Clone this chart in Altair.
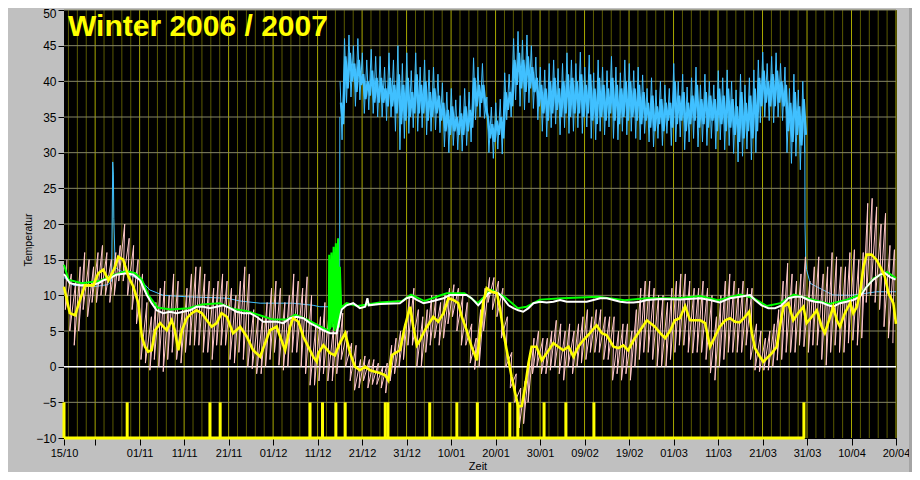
import altair as alt
import pandas as pd

# ---------------- axis ticks (days since 15/10/2006) ----------------
tick_days = [0, 7, 17, 27, 37, 47, 57, 67, 77, 87, 97, 107, 117, 127, 137, 147, 157, 167, 177, 187]
tick_labels = ["15/10", "", "01/11", "11/11", "21/11", "01/12", "11/12", "21/12", "31/12", "10/01",
               "20/01", "30/01", "09/02", "19/02", "01/03", "11/03", "21/03", "31/03", "10/04", "20/04"]
y_ticks = [-10, -5, 0, 5, 10, 15, 20, 25, 30, 35, 40, 45, 50]

title_text = "Winter 2006 / 2007"

# ---------------- blue series ----------------
blue_low = [(0, 12.5), (2.1, 11.4), (6.5, 11.2), (9.9, 11.5), (10.7, 12.0), (10.95, 28.7), (11.1, 27.0),
            (11.2, 20.8), (11.5, 14.0), (12.1, 13.6), (17.1, 12.2), (19.3, 10.75), (22.3, 10.0), (27.6, 9.8),
            (36.6, 9.6), (39.6, 9.2), (44.1, 8.9), (51.5, 8.9), (56, 8.6), (57.5, 8.4), (59.3, 8.4), (61.95, 8.4),
            (62.0, 35.0)]
blue_first_day = 62
# daily extremes (thin spikes)
blue_max = [40,
            46, 46.5, 45, 46,
            44, 43, 44.5, 43.5,
            43.5, 42, 44, 43,
            45, 42.5, 44, 41.5,
            44, 42, 43, 41.6, 42, 41,
            39.8, 38.5, 39, 37.4, 38, 39, 38.5,
            43.3, 42, 42.5,
            37.8, 36.4, 37, 37.5,
            41.2, 41,
            46, 47, 45.8, 46.5, 45,
            43.4, 42, 41.6, 42.5, 43, 41.8, 42.5,
            44, 43, 42.5, 44.1,
            42, 43.7, 41.2, 43, 42, 41.5, 43.5, 42, 41.2, 43, 42.5, 41.5, 42, 40.9,
            39, 40.5, 38.8, 40, 39.5, 39,
            42.5, 40, 41, 39.2, 40.5, 42, 39.5, 41, 40, 39.5, 41.5, 40.5, 41.6,
            40, 38.8, 41, 39.5, 40.5, 41.6,
            43, 44.1, 42.5, 43.5, 44, 42.5,
            42, 39, 41, 38.8, 40]
blue_min = [31.8,
            37, 37.8, 36.5, 37.4,
            35.5, 36, 35.5, 35,
            35, 34.5, 35, 33,
            30.4, 32, 32.7, 33.5,
            33, 33.5, 32.5, 33, 33.2, 32.8,
            30.8, 30, 31, 30.4, 30.2, 31, 31.5,
            34.6, 35, 34.8,
            30, 29.2, 30.5, 29.8,
            34.6, 35,
            37.4, 36.5, 36, 37, 36.2,
            34.6, 33, 32.2, 33.5, 34, 32.5, 33.5,
            32.7, 33, 33.5, 32.7,
            33.6, 32, 31.8, 33, 32.5, 33.6, 32, 31.8, 33, 32.5, 33, 32, 31.8, 32.7,
            31.5, 30.8, 32, 31, 32.7, 31,
            31.5, 32.2, 30.4, 31.5, 32, 30.8, 31.5, 31, 32, 30.5, 31.8, 30.4, 31,
            29.9, 28.7, 29.5, 30.5, 29, 30,
            34.2, 35, 34.5, 34.2, 35, 34.5,
            30, 28.5, 29.5, 27.6, 30]
# daily dense core of the band
blue_core_hi = [37,
                43.5, 44, 42.5, 43,
                41, 40, 41.5, 40.5,
                40.5, 39, 40.5, 39.5,
                41, 39.5, 40.5, 38.5,
                41, 39.5, 40, 38.5, 39, 38,
                37, 36, 36.5, 35, 35.5, 36.5, 36,
                40.5, 39.5, 39.5,
                35, 34, 34.5, 35,
                38.5, 38.5,
                43, 44, 43, 43.5, 42,
                40.5, 39.5, 39, 40, 40.5, 39, 40,
                41, 40.5, 40, 41,
                39.5, 41, 39, 40.5, 39.5, 39, 40.5, 39.5, 39, 40, 40, 39, 39.5, 38.5,
                37, 38, 36.5, 37.5, 37, 37,
                40, 38, 38.5, 37, 38, 39.5, 37.5, 38.5, 38, 37.5, 39, 38, 39,
                37.5, 36.5, 38.5, 37, 38, 39,
                40.5, 41.5, 40, 41, 41.5, 40,
                39.5, 37, 38.5, 36.5, 37.5]
blue_core_lo = [34,
                39, 40, 38.5, 39.5,
                37.5, 38, 37, 37,
                37, 36.5, 36.5, 35.5,
                34, 34.5, 35, 35.5,
                35.5, 35.5, 34.5, 35, 35.5, 34.5,
                33, 32.5, 33, 32.5, 32.5, 33, 33.5,
                36.5, 37, 36.5,
                32, 31.5, 32.5, 32,
                36, 36.5,
                39.5, 39, 38.5, 39, 38.5,
                36.5, 35.5, 34.5, 35.5, 36, 35, 35.5,
                35, 35.5, 35.5, 35,
                35.5, 34.5, 34, 35, 34.5, 35.5, 34.5, 34, 35, 34.5, 35, 34.5, 34, 34.5,
                33.5, 33, 34, 33, 34.5, 33.5,
                34, 34.5, 33, 34, 34.5, 33.5, 34, 33.5, 34.5, 33, 34, 33, 33.5,
                32.5, 31.5, 32, 33, 32, 33,
                36.5, 37, 36.5, 36.5, 37, 36.5,
                33, 31.5, 32.5, 31, 32.5]
blue_end = [(166.5, 35), (166.55, 19.9), (166.7, 15), (166.9, 13.6), (167.7, 11.7), (169.2, 11.2),
            (172.8, 10.05), (176.6, 10.0), (180.4, 10.3), (182.6, 10.5), (187, 10.5)]

# ---------------- pink series: daily max / min, 15/10 .. 19/04 ----------------
pink_max = [15, 13, 12, 14, 16, 15, 14, 16, 17, 16,
            15, 16, 17, 20, 18, 17, 15, 13, 9, 7,
            9, 11, 12, 10, 13, 12, 8, 11, 13, 14,
            14, 13, 12, 11, 12, 13, 12, 11, 10, 12,
            14, 13, 8, 7, 7, 9, 11, 12, 11, 9,
            10, 13, 12, 11, 12.6, 10, 6, 7, 9, 8,
            6, 7.5, 7.5, 5, 3.3, 3, 1, 1.5, 1, 1,
            0.5, 0, 0.5, 3, 4, 5, 6, 10, 11, 8,
            7, 8, 10, 10, 9, 10, 11, 11.5, 11, 10,
            9, 6, 4, 8, 11, 12.5, 12.5, 12, 11, 7,
            2, -1, -3, -2, 1, 4, 5, 4, 4, 5,
            6.5, 6, 5, 6, 5, 6, 7, 8, 7, 8,
            8, 7, 7, 7, 5, 6, 6, 5, 8, 11,
            12, 12, 11, 10, 10, 9, 11, 12, 13, 13,
            12, 11, 11, 12, 11, 10, 7, 10, 12, 13,
            12, 11, 12, 11, 11, 6, 5, 4, 5, 6,
            8, 12, 14.5, 13, 12, 13, 15.4, 12, 14, 15.4,
            13, 14, 16, 15.4, 14, 14, 16, 16.4, 15, 16,
            22.9, 23.6, 22.4, 20, 21.5, 17, 16.4]
pink_min = [8, 5, 3, 5, 8, 7, 9, 9, 10, 10,
            9, 10, 12, 12, 10, 8, 6, 1, 0.5, -0.5,
            1, 0, -0.7, 1, 2, 1, 0.5, 2, 3, 3,
            3, 2, 2, 1, 3, 3, 3, 1, 0.5, 2,
            1, 0, -0.3, -1, -1, 0, 1, 2, 0.2, -0.5,
            0, 2, 2, 0, -1, -2.6, -2.6, -2, -1, -2,
            -2, -1, 1, 0, -2, -3.3, -3, -2, -3, -2.5,
            -2.5, -3, -3.7, -2, -1, 0, 1, 3, 3, 0,
            0, 2, 3, 4, 3, 4, 6, 7, 5, 3,
            3, 0.5, -0.4, 0, 5, 9, 8, 7, 4, 0,
            -3, -5, -8.6, -8, -5, -1, 0, -1, -1, -0.5,
            0, -1, -1.9, 0, -1, 0, 0.5, 1, 2, 2,
            2, 1, 1, -1.9, -1, -1.9, -1, -1.9, 0, 1,
            2, 2, 1, 0, 0, 0, 1, 2, 3, 3,
            2, 1.9, 2, 2, 1, -0.9, -1.9, 0, 1, 2,
            2, 2, 2, 3, 1, -0.5, -0.7, -0.5, -0.5, 0,
            0.9, 1, 2, 2, 2, 3, 2.8, 2, 3, 3,
            1, 0.2, 2, 3, 2, 2, 3.3, 3.7, 3, 4,
            9, 10, 9, 8, 5.6, 4, 3.3]

# ---------------- yellow (daily mean) ----------------
yellow = [(0, 11.2), (1.3, 7.5), (2.5, 7.2), (3.6, 9.35), (4.7, 11.4), (6.6, 11.4), (7.7, 13.1), (8.8, 13.6),
          (10, 12.1), (11.5, 14), (12.2, 15.4), (13.3, 15), (14.5, 12.6), (15.6, 11.2), (16.7, 8.9), (17.5, 4.2),
          (18.2, 2.8), (18.9, 2.1), (19.7, 2.3), (20.5, 5.1), (21.6, 6.1), (23.1, 5.1), (24.2, 6.5), (24.9, 5.1),
          (25.7, 2.3), (26.5, 5.1), (27.6, 6.8), (28.7, 7.5), (29.8, 7.9), (31, 7.5), (32.1, 6.5), (33.2, 5.6),
          (34.3, 6.1), (35.4, 7.5), (36.6, 7.0), (38, 4.7), (39.6, 5.6), (41.1, 4.2), (42.5, 2.3), (44.1, 1.4),
          (45.2, 3.3), (46.3, 5.1), (47.8, 5.6), (48.6, 4.2), (49.7, 2.3), (50.8, 5.6), (51.5, 6.8), (52.7, 6.3),
          (53.8, 4.2), (54.9, 2.8), (56, 1.4), (56.8, 0.7), (57.2, 1.9), (58.3, 3.0), (59.8, 1.9), (60.9, 1.6),
          (62, 3.3), (63.2, 4.7), (64.3, 1.9), (65.4, 0), (66.5, -0.5), (67.7, 0), (68.8, -0.5), (69.9, -0.7),
          (71, -0.9), (72.2, -1.2), (72.9, -1.9), (73.7, 1.6), (74.4, 1.9), (75.5, 2.3), (76.6, 5.6), (77.8, 8.4),
          (78.5, 5.6), (79.3, 3.0), (80, 3.7), (81.1, 5.1), (82.3, 6.3), (83, 7.0), (84.1, 6.3), (85.3, 7.5),
          (86.4, 9.6), (87.5, 9.35), (88.6, 8.9), (89.4, 7.0), (90.5, 5.1), (91.6, 2.8), (92.8, 0.9), (93.5, 4.7),
          (94.2, 8.9), (95, 11.0), (96.1, 10.5), (97.3, 10.3), (98, 8.2), (98.7, 5.1), (99.5, 2.3), (100.6, -1.4),
          (101.4, -3.7), (102.1, -5.6), (102.9, -5.5), (103.6, -3), (104.4, 0.5), (105.1, 2.8), (106.2, 2.8),
          (107.4, 0.9), (108.5, 1.9), (110, 3.3), (111.1, 2.8), (112.2, 2.3), (113.4, 2.8), (114.5, 1.4),
          (115.6, 2.8), (116.7, 3.7), (118.2, 4.7), (119.7, 5.8), (120.9, 4.7), (122, 4.4), (123.5, 2.8),
          (124.6, 2.6), (125.7, 3.0), (126.8, 2.3), (128, 3.7), (129.5, 5.1), (131, 6.5), (132.8, 5.6),
          (134, 4.7), (135.1, 4), (136.2, 5), (137.3, 6.5), (138.4, 6.8), (139.6, 8.5), (140.7, 6.5),
          (141.8, 6.5), (143, 6.5), (144.1, 6.1), (145.2, 2.8), (146.3, 4.2), (147.4, 5.6), (148.6, 6.5),
          (149.7, 6.8), (150.8, 6.3), (151.9, 6.2), (153.1, 7.0), (154, 7.7), (154.6, 4.7), (155.3, 2.6),
          (156.4, 1.4), (157.2, 0.7), (158, 1.2), (159.1, 1.9), (160.2, 2.8), (160.9, 5.6), (161.7, 8.4),
          (162.8, 8.9), (163.9, 6.5), (165, 7.5), (166.2, 8.4), (166.9, 6.1), (168.1, 7.0), (169.2, 7.9),
          (170.3, 5.6), (171, 4.7), (172.2, 7.0), (172.9, 8.4), (173.7, 6.5), (174.4, 5.6), (175.5, 7.5),
          (176.7, 8.9), (177.4, 7.5), (178.2, 8.4), (178.9, 10.3), (179.7, 14.0), (180.4, 15.7), (181.5, 15.7),
          (182.6, 15.0), (183.8, 13.6), (184.5, 12.6), (185.3, 10.3), (186.4, 8.9), (187, 6.0)]

# ---------------- white ----------------
white = [(0, 13.0), (1.3, 11.7), (3.6, 11.4), (5.8, 11.4), (7.7, 11.7), (8.8, 12.1), (10.3, 12.4), (11.8, 12.9),
         (14.1, 13.1), (15.6, 12.9), (17.1, 12.1), (18.6, 10.05), (19.7, 8.9), (20.8, 7.9), (22.3, 7.5),
         (23.8, 7.7), (25.3, 7.5), (26.8, 7.7), (28.3, 7.9), (29.8, 8.4), (31.3, 8.4), (32.8, 8.2), (34.3, 8.4),
         (35.8, 8.6), (37.3, 8.2), (38.8, 7.7), (40.3, 7.5), (41.8, 7.5), (43.3, 7.0), (44.8, 6.3), (46.3, 6.3),
         (47.8, 6.3), (49.3, 6.1), (50.8, 6.8), (52.3, 7.0), (53.8, 6.8), (55.3, 6.1), (56.8, 5.6), (58.3, 5.1),
         (59.8, 4.7), (61.3, 4.7), (62.4, 8.0), (63.5, 8.6), (65, 8.9), (66.5, 8.2), (67.7, 8.4), (68.2, 9.6),
         (68.5, 8.6), (71, 8.8), (75.5, 8.9), (77, 9.6), (78.1, 9.8), (79.3, 9.35), (80.8, 8.9), (82.3, 9.1),
         (83.8, 9.35), (85.3, 9.6), (86.8, 10.05), (88.3, 10.05), (90.5, 10.05), (91.6, 9.6), (93.1, 8.6),
         (94.2, 9.35), (95.4, 10.3), (96.5, 10.5), (97.6, 10.3), (98.7, 9.6), (99.9, 8.6), (101, 8.2),
         (102.1, 7.9), (103.2, 7.7), (104.4, 8.2), (105.5, 8.9), (107, 9.1), (108.5, 9.0), (110, 9.1),
         (111.5, 9.35), (113, 9.1), (114.5, 9.1), (116, 9.1), (117.5, 9.1), (119, 9.35), (120.5, 9.6),
         (122, 9.6), (123.5, 9.35), (125, 9.1), (126.5, 9.0), (128, 9.0), (129.5, 9.1), (131, 9.35),
         (134, 9.5), (138.5, 9.4), (143, 9.6), (145.2, 9.35), (147.4, 9.0), (149.7, 9.6), (151.9, 9.8),
         (154.2, 10.05), (155.3, 9.35), (156.8, 8.6), (158.3, 8.2), (159.8, 8.2), (161.3, 8.6), (162.8, 9.6),
         (164.3, 9.8), (165.8, 9.8), (167.3, 9.35), (168.8, 9.1), (170.3, 9.0), (171.8, 8.6), (172.9, 8.4),
         (174.4, 8.9), (175.9, 9.1), (177.4, 9.35), (178.9, 9.8), (180.4, 11.2), (181.9, 12.2), (183.4, 12.9),
         (184.5, 13.1), (185.6, 12.6), (186.9, 12.2)]

# ---------------- green ----------------
green = [(0, 14.3), (1, 12.2), (4, 11.7), (8, 12.0), (11, 12.8), (14, 13.4), (16, 13.1), (17.5, 12.2), (19, 10.0),
         (21, 8.3), (24, 8.0), (28, 8.2), (31, 8.7), (35, 8.9), (38, 8.1), (41, 7.8), (44, 7.2), (47, 6.6),
         (50, 6.6), (52, 7.3), (55, 6.5), (58, 5.5), (59.5, 5.0), (59.6, 15.7), (59.8, 5.2), (60.1, 16.0),
         (60.3, 5.5), (60.6, 16.8), (60.8, 5.0), (61.1, 17.3), (61.3, 5.3), (61.6, 18.0), (61.8, 5.5),
         (62.0, 14.0), (62.3, 8.3), (63.5, 8.9), (66, 8.5), (71, 9.0), (76, 9.2), (78, 10.1), (81, 9.2),
         (86, 10.3), (90, 10.3), (93, 8.9), (96, 10.8), (99, 9.8), (102, 8.2), (104, 8.4), (107, 9.4),
         (112, 9.6), (120, 9.8), (126, 9.3), (131, 9.6), (138, 9.6), (143, 9.9), (147, 9.3), (152, 10.1),
         (155, 9.6), (158, 8.5), (161, 8.9), (164, 10.1), (167, 9.6), (172, 8.8), (176, 9.4), (179, 10.1),
         (182, 12.4), (185, 13.3), (187, 12.4)]

# ---------------- bottom yellow event bars ----------------
event_days = [0, 14.2, 32.8, 35.1, 55.3, 58.1, 61.1, 63.2, 72.2, 72.8, 82.2, 88.3, 92.9, 100.2, 102.0,
              107.9, 112.8, 119.1, 166.3]
event_low, event_high = -10, -5
event_line = (0, 166.5)


# ---------------- build tables ----------------
def pts(pairs):
    return pd.DataFrame({"d": [p[0] for p in pairs], "v": [p[1] for p in pairs], "i": list(range(len(pairs)))})


def zigzag(start, highs, lows, off_hi, off_lo):
    rows = []
    for k, (hi, lo) in enumerate(zip(highs, lows)):
        rows.append((start + k + off_hi, hi))
        rows.append((start + k + off_lo, lo))
    return rows


blue_thin_df = pts(blue_low)
blue_end_df = pts(blue_end)
blue_spike_df = pts(zigzag(blue_first_day, blue_max, blue_min, 0.05, 0.5))
blue_core_df = pts(zigzag(blue_first_day, blue_core_hi, blue_core_lo, 0.25, 0.75))
pink_df = pts(zigzag(0, pink_max, pink_min, 0.65, 0.3))

major_days = tick_days[1:]
minor_days = [d for d in range(1, 187, 2) if d not in major_days]

# ---------------- encodings ----------------
FONT = "Liberation Sans"
XS = alt.Scale(domain=[0, 187], nice=False, zero=False)
YS = alt.Scale(domain=[-10, 50], nice=False, zero=False)
labels_js = "[" + ",".join("'" + t + "'" for t in tick_labels) + "]"
days_js = "[" + ",".join(str(d) for d in tick_days) + "]"
x_axis = alt.Axis(values=tick_days, labelExpr=labels_js + "[indexof(" + days_js + ", datum.value)]",
                  title="", grid=False, labelFont=FONT, labelFontSize=11, labelColor="#000000",
                  tickColor="#000000", tickSize=7, labelPadding=2, labelFlush=False, labelOverlap=False,
                  domainColor="#000000")
y_axis = alt.Axis(values=y_ticks, title="", grid=False, labelFont=FONT, labelFontSize=12,
                  labelColor="#000000", tickColor="#000000", tickSize=6, labelPadding=2,
                  labelFlush=False, labelOverlap=False, domainColor="#000000",
                  labelOffset={"condition": {"test": "datum.value == 50", "value": 3}, "value": 0})


def X(f):
    return alt.X(f + ":Q", scale=XS, axis=x_axis)


def Y(f):
    return alt.Y(f + ":Q", scale=YS, axis=y_axis)


BLUE = "#40c0ff"
layers = []
txt = pd.DataFrame({"t": [title_text]})
# darker bevel strip at the right edge of the panel (behind everything)
layers.append(alt.Chart(txt).mark_rect(color="#a4a4a4").encode(x=alt.value(845), x2=alt.value(848),
                                                               y=alt.value(-2), y2=alt.value(462)))
layers.append(alt.Chart(pd.DataFrame({"d": minor_days})).mark_rule(color="#5a5a00", strokeWidth=1).encode(x=X("d")))
layers.append(alt.Chart(pd.DataFrame({"d": major_days})).mark_rule(color="#a8a800", strokeWidth=1).encode(x=X("d")))
hgrid = [v for v in y_ticks if v not in (0, -10)]
layers.append(alt.Chart(pd.DataFrame({"v": hgrid})).mark_rule(color="#868666", strokeWidth=1).encode(y=Y("v")))
layers.append(alt.Chart(pd.DataFrame({"v": [0]})).mark_rule(color="#ffffff", strokeWidth=1.5).encode(y=Y("v")))

layers.append(alt.Chart(blue_core_df).mark_line(color=BLUE, strokeWidth=2.4).encode(x=X("d"), y=Y("v"), order="i:Q"))
layers.append(alt.Chart(blue_spike_df).mark_line(color=BLUE, strokeWidth=1).encode(x=X("d"), y=Y("v"), order="i:Q"))
layers.append(alt.Chart(blue_thin_df).mark_line(color=BLUE, strokeWidth=1).encode(x=X("d"), y=Y("v"), order="i:Q"))
layers.append(alt.Chart(blue_end_df).mark_line(color=BLUE, strokeWidth=1).encode(x=X("d"), y=Y("v"), order="i:Q"))
layers.append(alt.Chart(pink_df).mark_line(color="#ffc8c8", strokeWidth=1).encode(x=X("d"), y=Y("v"), order="i:Q"))
layers.append(alt.Chart(pts(green)).mark_line(color="#00ff00", strokeWidth=2).encode(x=X("d"), y=Y("v"), order="i:Q"))
layers.append(alt.Chart(pts(white)).mark_line(color="#ffffff", strokeWidth=2).encode(x=X("d"), y=Y("v"), order="i:Q"))
layers.append(alt.Chart(pts(yellow)).mark_line(color="#ffff00", strokeWidth=2.6).encode(x=X("d"), y=Y("v"), order="i:Q"))

ev_df = pd.DataFrame({"d": event_days, "lo": [event_low] * len(event_days), "hi": [event_high] * len(event_days)})
layers.append(alt.Chart(ev_df).mark_rule(color="#ffff00", strokeWidth=3).encode(x=X("d"), y=Y("lo"), y2="hi"))
base_df = pd.DataFrame({"a": [event_line[0]], "b": [event_line[1]], "v": [event_low]})
layers.append(alt.Chart(base_df).mark_rule(color="#ffff00", strokeWidth=3).encode(x=X("a"), x2="b", y=Y("v")))

layers.append(alt.Chart(txt).mark_text(text=title_text, font=FONT, fontSize=30, fontWeight="bold", color="#ffff00",
                                       align="left", baseline="alphabetic").encode(x=alt.value(4), y=alt.value(26)))
layers.append(alt.Chart(txt).mark_text(text="Temperatur", font=FONT, fontSize=10.5, color="#000000", angle=270,
                                       align="center", baseline="middle").encode(x=alt.value(-35), y=alt.value(230)))
layers.append(alt.Chart(txt).mark_text(text="Zeit", font=FONT, fontSize=11, color="#000000",
                                       align="center", baseline="middle").encode(x=alt.value(414), y=alt.value(457)))

chart = alt.layer(*layers).properties(
    width=832, height=428,
    padding={"left": 56, "top": 2, "right": 16, "bottom": 34},
    autosize=alt.AutoSizeParams(type="none"),
    background="#c0c0c0",
).configure_view(fill="#000000", stroke="#000000")

chart.save("out.html", embed_options={"renderer": "svg", "actions": False})
